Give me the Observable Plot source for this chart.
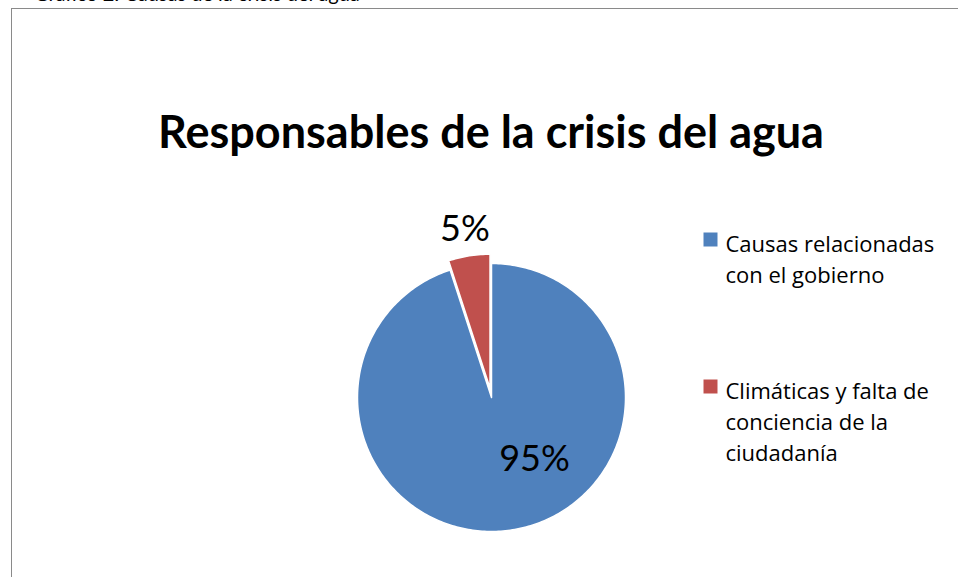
<!DOCTYPE html>
<html>
<head>
<meta charset="utf-8">
<script src="https://cdn.jsdelivr.net/npm/d3@7"></script>
<script src="https://cdn.jsdelivr.net/npm/@observablehq/plot@0.6"></script>
<style>
html, body { margin: 0; padding: 0; background: #fff; overflow: hidden; }
#wrap { position: relative; width: 958px; height: 577px; overflow: hidden; background: #fff; }
#cut { position: absolute; left: 34px; top: -17px; font-family: Lato, "Open Sans", sans-serif; font-size: 20px; line-height: 20px; color: #000; white-space: nowrap; }
#frame { position: absolute; left: 11px; top: 8px; width: 1100px; height: 700px; border: 1.5px solid #8a8a8a; box-sizing: border-box; }
#chart { position: absolute; left: 0; top: 0; }
</style>
</head>
<body>
<div id="wrap">
  <div id="cut">Gráfico 2: Causas de la crisis del agua</div>
  <div id="frame"></div>
  <div id="chart"></div>
</div>
<script>
// ---- data ----
const title = "Responsables de la crisis del agua";
const categories = ["Causas relacionadas con el gobierno", "Climáticas y falta de conciencia de la ciudadanía"];
const values = [95, 5];
const valueLabels = ["95%", "5%"];
const legendLines = [["Causas relacionadas", "con el gobierno"], ["Climáticas y falta de", "conciencia de la", "ciudadanía"]];
const colors = ["#4F81BD", "#C0504D"];

// ---- layout ----
const W = 958, H = 577;
const cx = 491, cy = 397, R = 134;
const explode = [0, 0.07];
const labelPlace = [{angle: 145, radius: 0.56}, {angle: null, radius: 1.27}];
const legendTop = [230, 377];
const legendFont = 22;

const total = d3.sum(values);
const polys = [];
const labels = [];
let acc = 0;
values.forEach((v, i) => {
  const a0 = acc / total * 2 * Math.PI;
  acc += v;
  const a1 = acc / total * 2 * Math.PI;
  const mid = (a0 + a1) / 2;
  const ox = explode[i] * Math.sin(mid), oy = explode[i] * Math.cos(mid);
  const n = Math.max(4, Math.ceil((a1 - a0) / (Math.PI / 180)));
  polys.push({key: categories[i], color: colors[i], x: ox, y: oy});
  for (let k = 0; k <= n; k++) {
    const t = a0 + (a1 - a0) * k / n;
    polys.push({key: categories[i], color: colors[i], x: ox + Math.sin(t), y: oy + Math.cos(t)});
  }
  const lp = labelPlace[i];
  const la = lp.angle == null ? mid : lp.angle * Math.PI / 180;
  labels.push({text: valueLabels[i], x: lp.radius * Math.sin(la), y: lp.radius * Math.cos(la)});
});

const FONT = "Lato, 'Open Sans', sans-serif";
const LEGFONT = "'Open Sans', Lato, sans-serif";

const legendMarks = categories.flatMap((c, i) => [
  Plot.dot([c], {frameAnchor: "top-left", dx: 710, dy: legendTop[i] + 9, symbol: "square", r: 7.9, fill: colors[i]}),
  Plot.text([legendLines[i].join("\n")], {frameAnchor: "top-left", dx: 725, dy: legendTop[i] - 1, text: d => d, textAnchor: "start", lineAnchor: "top", lineHeight: 31 / legendFont, fontSize: legendFont, fill: "black", fontFamily: LEGFONT})
]);

const plot = Plot.plot({
  width: W,
  height: H,
  margin: 0,
  style: {background: "transparent", fontFamily: FONT, overflow: "visible"},
  x: {domain: [-1, 1], range: [cx - R, cx + R], axis: null},
  y: {domain: [-1, 1], range: [cy + R, cy - R], axis: null},
  color: {type: "identity"},
  marks: [
    Plot.line(polys, {x: "x", y: "y", z: "key", fill: "color", stroke: "white", strokeWidth: 1.5, curve: "linear-closed"}),
    Plot.text(labels, {x: "x", y: "y", text: "text", fontSize: 36, fill: "black", fontFamily: FONT}),
    Plot.text([title], {frameAnchor: "top", dx: 11.5, dy: 116, lineAnchor: "top", text: d => d, fontSize: 45, fontWeight: "bold", fill: "black", fontFamily: FONT}),
    ...legendMarks
  ]
});
document.getElementById("chart").appendChild(plot);
</script>
</body>
</html>
